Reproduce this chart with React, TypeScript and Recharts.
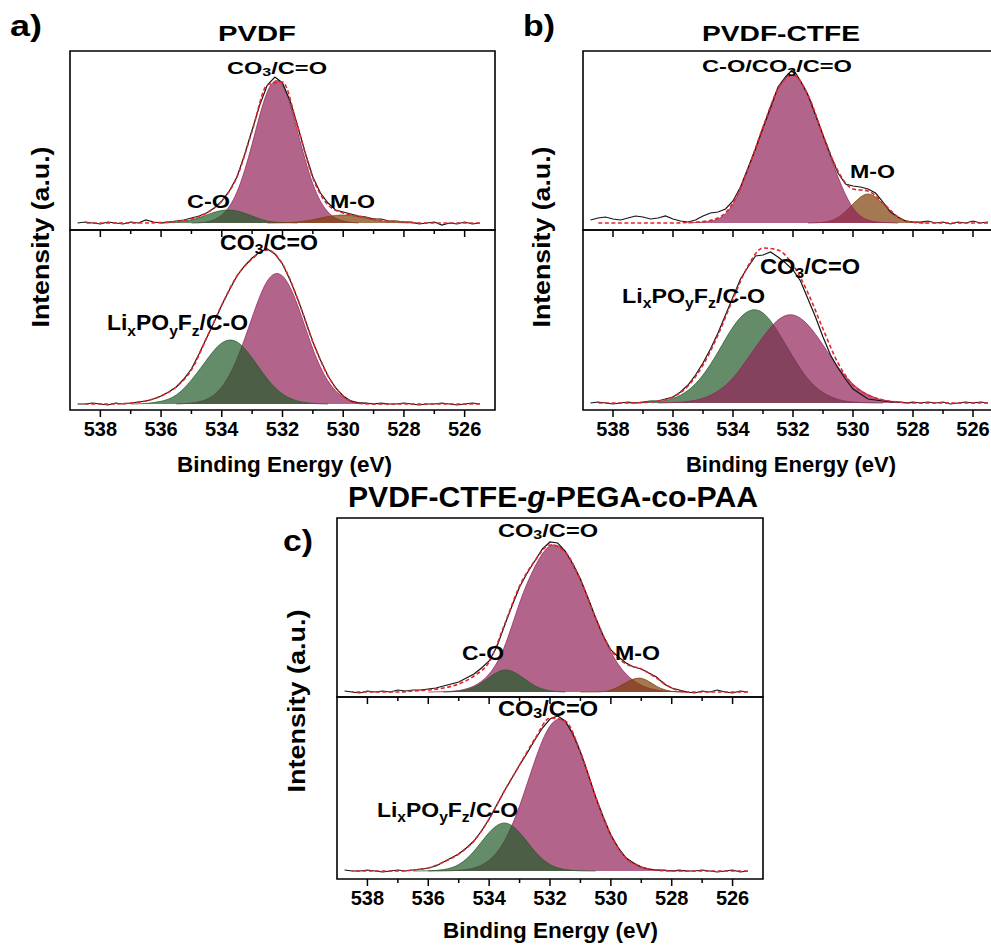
import { ComposedChart, Area, Line, XAxis, YAxis, ReferenceArea } from 'recharts';

const FONT = '"Liberation Sans", Arial, Helvetica, sans-serif';
const _ = null;

// binding-energy grids (eV): raw spectrum every 0.25 eV, fit envelope + components every 0.5 eV
const RAW_E = [
  525.5, 525.75, 526, 526.25, 526.5, 526.75, 527, 527.25, 527.5, 527.75,
  528, 528.25, 528.5, 528.75, 529, 529.25, 529.5, 529.75, 530, 530.25,
  530.5, 530.75, 531, 531.25, 531.5, 531.75, 532, 532.25, 532.5, 532.75,
  533, 533.25, 533.5, 533.75, 534, 534.25, 534.5, 534.75, 535, 535.25,
  535.5, 535.75, 536, 536.25, 536.5, 536.75, 537, 537.25, 537.5, 537.75,
  538, 538.25, 538.5, 538.75,
];
const FIT_E = [
  525.5, 526, 526.5, 527, 527.5, 528, 528.5, 529, 529.5, 530,
  530.5, 531, 531.5, 532, 532.5, 533, 533.5, 534, 534.5, 535,
  535.5, 536, 536.5, 537, 537.5, 538, 538.5,
];
const TICKS = [526, 527, 528, 529, 530, 531, 532, 533, 534, 535, 536, 537, 538];

// ---- a) PVDF ----
const A_UP_RAW = [0, -1, 1, -1, 0, -2, 1, 0, -1, 1, 1, 2, 2, 4, 4, 6, 7, 9, 11, 13, 20, 30, 46, 70, 97, 122, 140, 146, 138, 118, 93, 68, 46, 32, 22, 15, 10, 7, 5, 3, 2, 1, 0, 1, 3, 0, 1, -1, 0, 1, -1, 0, 1, 0];
const A_UP_FIT = [0, 0, 0, 0, 0, 1, 2, 4, 7, 10, 18, 45, 96, 141, 138, 92, 46, 22, 10, 4, 1.5, 0.5, 0, 0, 0, 0, 0];
const A_UP_CO3 = [_, _, _, _, _, _, _, _, 0, 2, 11, 39, 91, 138, 131, 79, 31, 8, 1, 0, _, _, _, _, _, _, _];
const A_UP_CO = [_, _, _, _, _, _, _, _, _, _, _, _, 0, 0.5, 2, 7, 12, 12.5, 8, 3, 0.7, 0, _, _, _, _, _];
const A_UP_MO = [_, _, _, _, 0, 0.2, 1.1, 3.3, 6.4, 8, 6.4, 3.3, 1.1, 0.2, 0, _, _, _, _, _, _, _, _, _, _, _, _];

const A_LO_RAW = [0, 1, 0, -1, 0, 1, 0, 0, -1, 0, 1, 0, 0, 1, 0, 1, 1, 3, 8, 16, 28, 44, 62, 84, 105, 124, 140, 150, 155, 152, 146, 138, 128, 114, 99, 82, 66, 50, 35, 25, 17, 12, 8, 5, 3, 2, 1, 0, 1, -1, 0, 1, 0, 0];
const A_LO_FIT = [0, 0, 0, 0, 0, 0, 0, 0, 0.5, 8, 28, 62, 105, 140, 154, 145, 128, 99, 66, 34, 17, 8, 3, 1, 0, 0, 0];
const A_LO_CO3 = [_, _, _, _, _, _, 0, 0.3, 1.6, 7, 23, 55, 98.5, 128, 123, 86.5, 45, 17, 4.7, 1, 0, _, _, _, _, _, _];
const A_LO_LIPOF = [_, _, _, _, _, _, _, _, _, _, 0, 0.6, 3, 10, 25, 46, 62, 61, 44, 24, 9, 2.7, 0.6, 0, _, _, _];

// ---- b) PVDF-CTFE ----
const B_UP_RAW = [1, 0, 2, 0, 1, -1, 1, 0, 2, 1, 1, 2, 6, 11, 21, 30, 34, 36, 37, 39, 50, 68, 88, 108, 128, 142, 154, 146, 136, 115, 95, 74, 55, 36, 22, 14, 11, 10, 7, 3, 1, 2, 4, 7, 5, 4, 6, 7, 5, 3, 4, 6, 5, 3];
const B_UP_FIT = [0, 0, 0, 0, 0, 0.7, 6, 20, 32, 34, 52, 88, 128, 148, 134, 96, 54, 20, 5, 1.5, 0.5, 0, 0, 0, 0, 0, 0];
const B_UP_CO3 = [_, _, _, _, _, _, 0, 0.5, 3, 15, 46, 87, 128, 148, 134, 96, 54, 19, 4, 1, 0, _, _, _, _, _, _];
const B_UP_MO = [_, _, _, _, 0, 0.7, 5.6, 19, 29, 19, 5.6, 0.7, 0, _, _, _, _, _, _, _, _, _, _, _, _, _, _];

const B_LO_RAW = [0, 1, 0, 1, 0, -1, 1, 0, 1, 0, 1, 0, 1, 1, 2, 3, 4, 9, 14, 24, 35, 48, 66, 86, 104, 122, 133, 140, 146, 151, 148, 147, 136, 124, 106, 88, 70, 54, 40, 28, 18, 11, 6, 4, 2, 2, 1, 0, 1, 0, -1, 0, 1, 0];
const B_LO_FIT = [0, 0, 0, 0, 0, 0, 1, 3, 8, 18, 40, 74, 110, 138, 153, 155, 137, 104, 68, 38, 17, 6, 2, 0.5, 0, 0, 0];
const B_LO_CO3 = [_, _, _, _, _, 0, 1, 3, 8.4, 19, 36, 58, 78, 88, 83, 66, 45, 25, 12, 4.7, 1.6, 0.5, 0, _, _, _, _];
const B_LO_LIPOF = [_, _, _, _, _, _, _, 0, 0.2, 1, 3.6, 10.4, 24, 46, 71, 90, 91.5, 76, 51, 28, 12.6, 4.6, 1.3, 0.3, 0, _, _];

// ---- c) PVDF-CTFE-g-PEGA-co-PAA ----
const C_UP_RAW = [0, 1, -1, 0, 2, 0, 1, -1, 0, 2, 4, 8, 15, 19, 23, 25, 29, 35, 42, 56, 74, 94, 113, 128, 141, 149, 150, 143, 131, 119, 105, 86, 66, 45, 31, 24, 18, 14, 10, 8, 6, 4, 3, 2, 2, 1, 2, 0, 1, 0, 1, -1, 0, 1];
const C_UP_FIT = [0, 0, 0, 0, 0, 4, 14, 23, 28, 42, 74, 112, 140, 147, 131, 106, 67, 30, 16, 8, 4, 2, 1, 0, 0, 0, 0];
const C_UP_CO3 = [_, _, _, _, 0, 0.5, 2, 6.8, 18, 40, 74, 112, 140, 146, 125, 89, 45, 18, 6, 1.5, 0.3, 0, _, _, _, _, _];
const C_UP_CO = [_, _, _, _, _, _, _, _, _, _, _, _, 0, 1.2, 6.3, 16.6, 22, 14.5, 4.8, 0.8, 0, _, _, _, _, _, _];
const C_UP_MO = [_, _, _, _, 0, 0.7, 5.8, 13.7, 9.4, 1.9, 0.1, 0, _, _, _, _, _, _, _, _, _, _, _, _, _, _, _];

const C_LO_RAW = [0, -1, 1, 0, -1, 0, 1, 0, 0, 1, 0, 1, 1, 2, 4, 8, 13, 23, 36, 54, 74, 97, 119, 137, 150, 155, 152, 143, 131, 118, 106, 93, 80, 66, 52, 40, 30, 23, 17, 13, 9, 5, 3, 2, 1, 0, 1, 0, -1, 0, 1, 0, 0, 1];
const C_LO_FIT = [0, 0, 0, 0, 0, 0, 1, 4, 13, 36, 74, 119, 150, 153, 132, 106, 80, 52, 30, 17, 9, 3, 1, 0, 0, 0, 0];
const C_LO_CO3 = [_, _, _, _, 0, 0.2, 0.9, 4, 13.5, 36, 74, 119, 149, 145, 110, 65, 30, 10.8, 3, 0.7, 0.1, 0, _, _, _, _, _];
const C_LO_LIPOF = [_, _, _, _, _, _, _, _, _, _, 0, 0.2, 1.4, 6.5, 19.7, 38.4, 48, 38.4, 19.7, 6.5, 1.4, 0.2, 0, _, _, _, _];

const MAGENTA = '#912258';
const GREEN = '#225b29';
const BROWN = '#7e3e05';
const FIT_RED = '#e3262d';
const RAW_BLACK = '#141414';
const PAD = 3;

interface Comp {
  values: (number | null)[];
  color: string;
}

interface SpectrumProps {
  left: number;
  top: number;
  width: number;
  height: number;
  yDomain: [number, number];
  raw: number[];
  fit: number[];
  comps: Comp[];
  labels?: boolean;
}

function EnergyTick({ x, y, payload, showLabel }: any) {
  const v = payload?.value;
  const major = v % 2 === 0;
  return (
    <g>
      <line x1={x} x2={x} y1={y} y2={y + (major ? 7 : 4)} stroke="#000" strokeWidth={1.5} />
      {showLabel && major ? (
        <text x={x} y={y + 26} textAnchor="middle" fontFamily={FONT} fontWeight="bold" fontSize={20} fill="#000">
          {v}
        </text>
      ) : null}
    </g>
  );
}

function Spectrum({ left, top, width, height, yDomain, raw, fit, comps, labels = false }: SpectrumProps) {
  const axisH = labels ? 30 : 9;
  const data = RAW_E.map((e, i) => {
    const k = FIT_E.indexOf(e);
    const row: Record<string, number | null> = { e, raw: raw[i], fit: k >= 0 ? fit[k] : null };
    comps.forEach((c, j) => {
      row['c' + j] = k >= 0 ? c.values[k] : null;
    });
    return row;
  });

  return (
    <div style={{ position: 'absolute', left: left - PAD, top: top - PAD }}>
      <ComposedChart
        width={width + 2 * PAD}
        height={height + 2 * PAD + axisH}
        data={data}
        margin={{ top: PAD, right: PAD, bottom: PAD, left: PAD }}
      >
        <XAxis
          type="number"
          dataKey="e"
          domain={[525, 539]}
          reversed
          allowDataOverflow
          ticks={TICKS}
          interval={0}
          axisLine={false}
          tickLine={false}
          tickSize={0}
          tickMargin={0}
          height={axisH}
          tick={(p: any) => <EnergyTick {...p} showLabel={labels} />}
        />
        <YAxis type="number" domain={yDomain} hide allowDataOverflow />
        {comps.map((c, j) => (
          <Area
            key={'c' + j}
            type="natural"
            dataKey={'c' + j}
            baseValue={0}
            connectNulls
            fill={c.color}
            fillOpacity={0.7}
            stroke={c.color}
            strokeOpacity={0.9}
            strokeWidth={0.8}
            dot={false}
            activeDot={false}
            isAnimationActive={false}
          />
        ))}
        <Line
          type="linear"
          dataKey="raw"
          stroke={RAW_BLACK}
          strokeWidth={1.2}
          dot={false}
          activeDot={false}
          isAnimationActive={false}
        />
        <Line
          type="monotone"
          dataKey="fit"
          connectNulls
          stroke={FIT_RED}
          strokeWidth={1.6}
          strokeDasharray="4 2.5"
          dot={false}
          activeDot={false}
          isAnimationActive={false}
        />
        <ReferenceArea
          x1={525}
          x2={539}
          y1={yDomain[0]}
          y2={yDomain[1]}
          fill="none"
          stroke="#000"
          strokeWidth={1.6}
        />
      </ComposedChart>
    </div>
  );
}

interface TxtProps {
  x: number;
  y: number;
  w: number;
  size: number;
  rotate?: boolean;
  children: any;
}

function Txt({ x, y, w, size, rotate = false, children }: TxtProps) {
  return (
    <text
      x={x}
      y={y}
      fontSize={size}
      fontWeight="bold"
      fontFamily={FONT}
      fill="#000"
      textLength={w}
      lengthAdjust="spacingAndGlyphs"
      textAnchor={rotate ? 'middle' : 'start'}
      transform={rotate ? `rotate(-90 ${x} ${y})` : undefined}
    >
      {children}
    </text>
  );
}

function co3(size: number, drop: number) {
  return (
    <>
      CO
      <tspan fontSize={size * 0.68} dy={drop}>3</tspan>
      <tspan dy={-drop}>/C=O</tspan>
    </>
  );
}

function lipof(size: number) {
  const s = size * 0.68;
  const d = size * 0.25;
  return (
    <>
      Li
      <tspan fontSize={s} dy={d}>x</tspan>
      <tspan dy={-d}>PO</tspan>
      <tspan fontSize={s} dy={d}>y</tspan>
      <tspan dy={-d}>F</tspan>
      <tspan fontSize={s} dy={d}>z</tspan>
      <tspan dy={-d}>/C-O</tspan>
    </>
  );
}

export default function App() {
  return (
    <div
      style={{
        position: 'fixed',
        left: 0,
        top: 0,
        width: 991,
        height: 945,
        overflow: 'hidden',
        background: '#fff',
      }}
    >
      {/* a) PVDF */}
      <Spectrum left={70} top={230} width={425} height={180} yDomain={[-6, 174]} raw={A_LO_RAW} fit={A_LO_FIT}
        comps={[{ values: A_LO_CO3, color: MAGENTA }, { values: A_LO_LIPOF, color: GREEN }]} labels />
      <Spectrum left={70} top={51} width={425} height={179} yDomain={[-7, 172]} raw={A_UP_RAW} fit={A_UP_FIT}
        comps={[{ values: A_UP_CO3, color: MAGENTA }, { values: A_UP_CO, color: GREEN }, { values: A_UP_MO, color: BROWN }]} />

      {/* b) PVDF-CTFE */}
      <Spectrum left={583} top={230} width={420} height={180} yDomain={[-7, 173]} raw={B_LO_RAW} fit={B_LO_FIT}
        comps={[{ values: B_LO_LIPOF, color: GREEN }, { values: B_LO_CO3, color: MAGENTA }]} labels />
      <Spectrum left={583} top={51} width={420} height={179} yDomain={[-7, 172]} raw={B_UP_RAW} fit={B_UP_FIT}
        comps={[{ values: B_UP_MO, color: BROWN }, { values: B_UP_CO3, color: MAGENTA }]} />

      {/* c) PVDF-CTFE-g-PEGA-co-PAA */}
      <Spectrum left={337} top={697} width={426} height={182} yDomain={[-8, 174]} raw={C_LO_RAW} fit={C_LO_FIT}
        comps={[{ values: C_LO_CO3, color: MAGENTA }, { values: C_LO_LIPOF, color: GREEN }]} labels />
      <Spectrum left={337} top={518} width={426} height={179} yDomain={[-5, 174]} raw={C_UP_RAW} fit={C_UP_FIT}
        comps={[{ values: C_UP_CO3, color: MAGENTA }, { values: C_UP_CO, color: GREEN }, { values: C_UP_MO, color: BROWN }]} />

      <svg width={991} height={945} style={{ position: 'absolute', left: 0, top: 0, pointerEvents: 'none' }}>
        {/* titles and panel letters */}
        <Txt x={218} y={41} w={78} size={22}>PVDF</Txt>
        <Txt x={702} y={41} w={158} size={22}>PVDF-CTFE</Txt>
        <Txt x={348} y={507} w={410} size={29}>
          PVDF-CTFE-<tspan fontStyle="italic">g</tspan>-PEGA-co-PAA
        </Txt>
        <Txt x={10} y={36} w={32} size={30}>a)</Txt>
        <Txt x={523} y={36} w={32} size={30}>b)</Txt>
        <Txt x={283} y={551} w={30} size={30}>c)</Txt>

        {/* axis titles */}
        <Txt x={49} y={237} w={181} size={24} rotate>Intensity (a.u.)</Txt>
        <Txt x={550} y={237} w={181} size={24} rotate>Intensity (a.u.)</Txt>
        <Txt x={305} y={701} w={183} size={24} rotate>Intensity (a.u.)</Txt>
        <Txt x={177} y={472} w={215} size={22}>Binding Energy (eV)</Txt>
        <Txt x={686} y={472} w={210} size={22}>Binding Energy (eV)</Txt>
        <Txt x={443} y={938} w={215} size={22}>Binding Energy (eV)</Txt>

        {/* peak assignments */}
        <Txt x={227} y={74} w={100} size={17}>{co3(17, 2)}</Txt>
        <Txt x={187} y={208} w={43} size={18}>C-O</Txt>
        <Txt x={330} y={208} w={45} size={18}>M-O</Txt>
        <Txt x={220} y={250} w={98} size={22}>{co3(22, 4)}</Txt>
        <Txt x={107} y={330} w={141} size={22}>{lipof(22)}</Txt>

        <Txt x={702} y={72} w={150} size={17}>C-O/{co3(17, 4)}</Txt>
        <Txt x={850} y={178} w={45} size={18}>M-O</Txt>
        <Txt x={760} y={274} w={100} size={22}>{co3(22, 4)}</Txt>
        <Txt x={622} y={303} w={143} size={21}>{lipof(21)}</Txt>

        <Txt x={498} y={537} w={100} size={19}>{co3(19, 2)}</Txt>
        <Txt x={462} y={660} w={42} size={20}>C-O</Txt>
        <Txt x={615} y={660} w={45} size={20}>M-O</Txt>
        <Txt x={498} y={716} w={100} size={22}>{co3(22, 2)}</Txt>
        <Txt x={377} y={817} w={141} size={21}>{lipof(21)}</Txt>
      </svg>
    </div>
  );
}
